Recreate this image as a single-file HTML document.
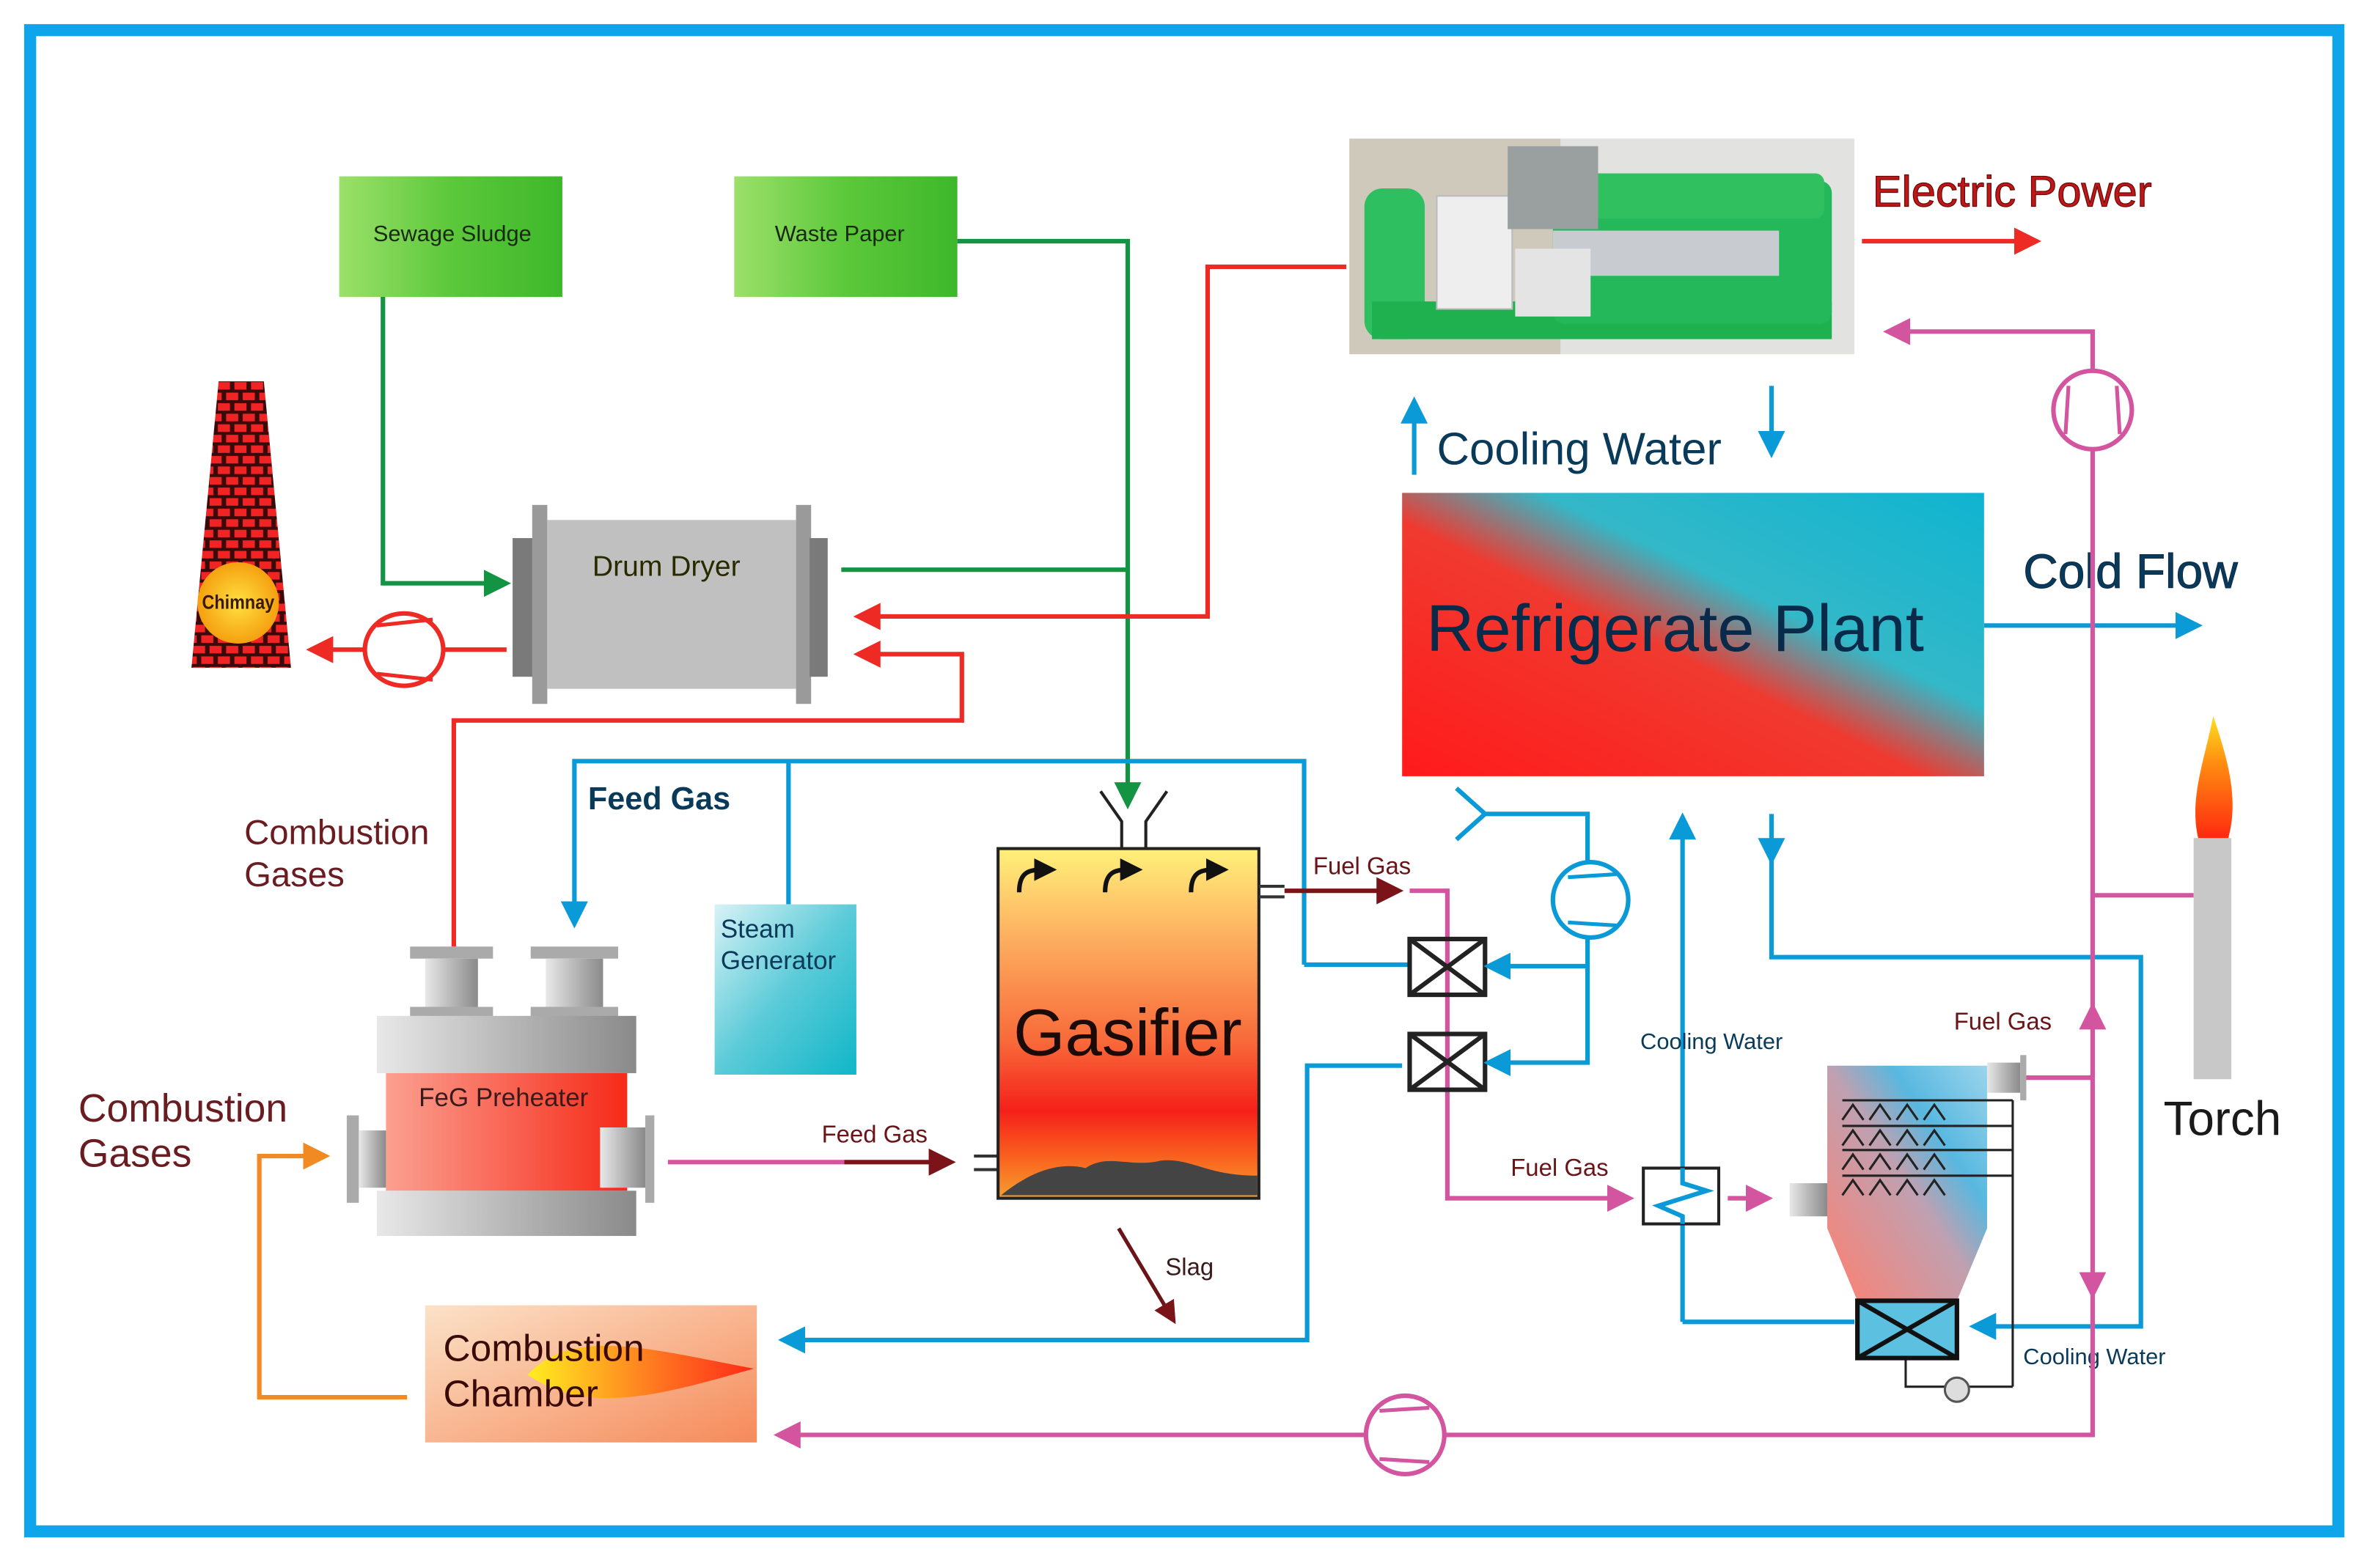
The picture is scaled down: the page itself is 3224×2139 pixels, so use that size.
<!DOCTYPE html>
<html><head><meta charset="utf-8"><style>
html,body{margin:0;padding:0;background:#fff}
svg{display:block}
text{font-family:"Liberation Sans",Arial,sans-serif}
</style></head><body>
<svg width="3224" height="2139" viewBox="0 0 1568 1040.3" preserveAspectRatio="none" xmlns="http://www.w3.org/2000/svg">
<defs>
<marker id="ag" markerWidth="6" markerHeight="6" refX="3" refY="3" orient="auto" markerUnits="strokeWidth"><path d="M0,0 L6,3 L0,6 z" fill="#139443"/></marker>
<marker id="ar" markerWidth="6" markerHeight="6" refX="3" refY="3" orient="auto" markerUnits="strokeWidth"><path d="M0,0 L6,3 L0,6 z" fill="#ee2a24"/></marker>
<marker id="ab" markerWidth="6" markerHeight="6" refX="3" refY="3" orient="auto" markerUnits="strokeWidth"><path d="M0,0 L6,3 L0,6 z" fill="#0a9ad8"/></marker>
<marker id="am" markerWidth="6" markerHeight="6" refX="3" refY="3" orient="auto" markerUnits="strokeWidth"><path d="M0,0 L6,3 L0,6 z" fill="#d4559f"/></marker>
<marker id="ao" markerWidth="6" markerHeight="6" refX="3" refY="3" orient="auto" markerUnits="strokeWidth"><path d="M0,0 L6,3 L0,6 z" fill="#f28a23"/></marker>
<marker id="ad" markerWidth="6" markerHeight="6" refX="3" refY="3" orient="auto" markerUnits="strokeWidth"><path d="M0,0 L6,3 L0,6 z" fill="#7a1418"/></marker>
<marker id="ak" markerWidth="5" markerHeight="5" refX="2" refY="2.5" orient="auto" markerUnits="strokeWidth"><path d="M0,0 L5,2.5 L0,5 z" fill="#111"/></marker>
<linearGradient id="gg" x1="0" y1="0" x2="1" y2="0"><stop offset="0" stop-color="#9be06a"/><stop offset=".5" stop-color="#5cc83a"/><stop offset="1" stop-color="#3db82a"/></linearGradient>
<linearGradient id="rp" x1="0" y1="1" x2="1" y2="0"><stop offset="0" stop-color="#ff1a1a"/><stop offset=".45" stop-color="#f03a30"/><stop offset=".62" stop-color="#33b8c8"/><stop offset="1" stop-color="#10b4d0"/></linearGradient>
<linearGradient id="gas" x1="0" y1="0" x2="0" y2="1"><stop offset="0" stop-color="#fff17a"/><stop offset=".25" stop-color="#fdb060"/><stop offset=".55" stop-color="#f86a3a"/><stop offset=".75" stop-color="#f5201a"/><stop offset=".9" stop-color="#fa6a20"/><stop offset="1" stop-color="#f5a030"/></linearGradient>
<linearGradient id="stm" x1="0" y1="0" x2="1" y2="1"><stop offset="0" stop-color="#d8f2f6"/><stop offset=".5" stop-color="#5ccbd8"/><stop offset="1" stop-color="#10b6c8"/></linearGradient>
<linearGradient id="feg" x1="0" y1="0" x2="1" y2="0"><stop offset="0" stop-color="#fba090"/><stop offset="1" stop-color="#f62a18"/></linearGradient>
<linearGradient id="gry" x1="0" y1="0" x2="1" y2="0"><stop offset="0" stop-color="#e8e8e8"/><stop offset=".5" stop-color="#b8b8b8"/><stop offset="1" stop-color="#8a8a8a"/></linearGradient>
<linearGradient id="cc" x1="0" y1="0" x2="1" y2="1"><stop offset="0" stop-color="#fbe2c8"/><stop offset="1" stop-color="#f58a5a"/></linearGradient>
<linearGradient id="scr" x1="0" y1="1" x2="1" y2="0"><stop offset="0" stop-color="#ff8070"/><stop offset=".5" stop-color="#c0a0b0"/><stop offset=".7" stop-color="#58b8e0"/><stop offset="1" stop-color="#9ad4ec"/></linearGradient>
<linearGradient id="fl" x1="0" y1="0" x2="1" y2="0"><stop offset="0" stop-color="#ffee20"/><stop offset=".6" stop-color="#ff7020"/><stop offset="1" stop-color="#ff2a18"/></linearGradient>
<linearGradient id="tf" x1="0" y1="1" x2="0" y2="0"><stop offset="0" stop-color="#ff2a10"/><stop offset=".6" stop-color="#ff8a10"/><stop offset="1" stop-color="#ffe020"/></linearGradient>
<pattern id="brick" width="22" height="14" patternUnits="userSpaceOnUse"><rect width="22" height="14" fill="#3a0a0a"/><rect x="1.5" y="1.5" width="8" height="5" fill="#f02424"/><rect x="12.5" y="1.5" width="8" height="5" fill="#f02424"/><rect x="-4" y="8.5" width="8" height="5" fill="#f02424"/><rect x="7" y="8.5" width="8" height="5" fill="#f02424"/><rect x="18" y="8.5" width="8" height="5" fill="#f02424"/></pattern>
<radialGradient id="ch"><stop offset="0" stop-color="#ffe040"/><stop offset="1" stop-color="#f5a010"/></radialGradient>
</defs>

<rect x="0" y="0" width="1568" height="1041" fill="#fff"/>
<rect x="20" y="20" width="1531" height="996" fill="none" stroke="#0ea5ea" stroke-width="8"/>

<rect x="225" y="117" width="148" height="80" fill="url(#gg)"/>
<text x="300" y="160" font-size="15" text-anchor="middle" fill="#1a2a10">Sewage Sludge</text>
<rect x="487" y="117" width="148" height="80" fill="url(#gg)"/>
<text x="557" y="160" font-size="15" text-anchor="middle" fill="#1a2a10">Waste Paper</text>

<polyline points="254,197 254,387 330,387" fill="none" stroke="#139443" stroke-width="3" marker-end="url(#ag)"/>
<polyline points="635,160 748,160 748,528" fill="none" stroke="#139443" stroke-width="3" marker-end="url(#ag)"/>
<line x1="558" y1="378" x2="748" y2="378" stroke="#139443" stroke-width="3"/>

<!-- Generator -->
<rect x="895" y="92" width="335" height="143" fill="#e2e2e0"/>
<rect x="895" y="92" width="140" height="143" fill="#cfc9bc"/>
<rect x="905" y="125" width="40" height="100" rx="12" fill="#2ec060"/>
<rect x="910" y="200" width="305" height="25" fill="#1fb050"/>
<rect x="1030" y="120" width="185" height="95" rx="8" fill="#24b85a"/>
<rect x="1030" y="153" width="150" height="30" fill="#c8ccd0"/>
<rect x="1040" y="115" width="170" height="30" rx="6" fill="#30c060"/>
<rect x="953" y="130" width="50" height="75" fill="#eeeeee" stroke="#bbb"/>
<rect x="1000" y="97" width="60" height="55" fill="#9aa0a0"/>
<rect x="1005" y="165" width="50" height="45" fill="#e4e4e4"/>

<text x="1242" y="137" font-size="29" fill="#c01818" stroke="#6a0808" stroke-width=".6">Electric Power</text>
<line x1="1235" y1="160" x2="1345" y2="160" stroke="#ee2a24" stroke-width="3" marker-end="url(#ar)"/>

<polyline points="893,177 801,177 801,409 575,409" fill="none" stroke="#ee2a24" stroke-width="3" marker-end="url(#ar)"/>
<polyline points="301,628 301,478 638,478 638,434 575,434" fill="none" stroke="#ee2a24" stroke-width="3" marker-end="url(#ar)"/>

<!-- Chimney -->
<polygon points="145,253 175,253 193,443 127,443" fill="url(#brick)"/>
<circle cx="158" cy="400" r="27" fill="url(#ch)"/>
<text x="158" y="404" font-size="13" text-anchor="middle" fill="#3a1a00" font-weight="bold" textLength="48" lengthAdjust="spacingAndGlyphs">Chimnay</text>

<!-- Drum dryer -->
<rect x="340" y="357" width="14" height="92" fill="#7a7a7a"/>
<rect x="353" y="335" width="10" height="132" fill="#9a9a9a"/>
<rect x="363" y="345" width="165" height="112" fill="#c0c0c0"/>
<rect x="528" y="335" width="10" height="132" fill="#9a9a9a"/>
<rect x="537" y="357" width="12" height="92" fill="#7a7a7a"/>
<text x="442" y="382" font-size="19" text-anchor="middle" fill="#2a2a00">Drum Dryer</text>

<line x1="336" y1="431" x2="212" y2="431" stroke="#ee2a24" stroke-width="3" marker-end="url(#ar)"/>
<ellipse cx="268" cy="431" rx="26" ry="24" fill="#fff" stroke="#ee2a24" stroke-width="3"/>
<line x1="250" y1="415" x2="287" y2="411" stroke="#ee2a24" stroke-width="2.5"/>
<line x1="250" y1="447" x2="287" y2="451" stroke="#ee2a24" stroke-width="2.5"/>

<text x="162" y="560" font-size="23" fill="#6a1c20">Combustion</text>
<text x="162" y="588" font-size="23" fill="#6a1c20">Gases</text>
<text x="52" y="744" font-size="26" fill="#6a1c20">Combustion</text>
<text x="52" y="774" font-size="26" fill="#6a1c20">Gases</text>

<polyline points="865,640 865,505 381,505 381,607" fill="none" stroke="#0a9ad8" stroke-width="3" marker-end="url(#ab)"/>
<line x1="523" y1="505" x2="523" y2="600" stroke="#0a9ad8" stroke-width="3"/>
<line x1="865" y1="640" x2="935" y2="640" stroke="#0a9ad8" stroke-width="3"/>
<text x="390" y="537" font-size="21" fill="#0a3a5a" font-weight="bold">Feed Gas</text>

<rect x="474" y="600" width="94" height="113" fill="url(#stm)"/>
<text x="478" y="622" font-size="17" fill="#0a3a5a">Steam</text>
<text x="478" y="643" font-size="17" fill="#0a3a5a">Generator</text>

<!-- FeG preheater -->
<rect x="272" y="628" width="55" height="8" fill="#aaa"/><rect x="282" y="636" width="35" height="32" fill="url(#gry)"/><rect x="272" y="668" width="55" height="8" fill="#aaa"/>
<rect x="352" y="628" width="58" height="8" fill="#aaa"/><rect x="362" y="636" width="38" height="32" fill="url(#gry)"/><rect x="352" y="668" width="58" height="8" fill="#aaa"/>
<rect x="250" y="674" width="172" height="38" fill="url(#gry)"/>
<rect x="256" y="712" width="160" height="78" fill="url(#feg)"/>
<rect x="250" y="790" width="172" height="30" fill="url(#gry)"/>
<rect x="230" y="740" width="8" height="58" fill="#aaa"/><rect x="238" y="750" width="18" height="38" fill="url(#gry)"/>
<rect x="398" y="748" width="30" height="40" fill="url(#gry)"/><rect x="428" y="740" width="6" height="58" fill="#aaa"/>
<text x="334" y="734" font-size="17" text-anchor="middle" fill="#3a1a1a">FeG Preheater</text>

<polyline points="270,927 172,927 172,767 210,767" fill="none" stroke="#f28a23" stroke-width="3" marker-end="url(#ao)"/>

<line x1="443" y1="771" x2="560" y2="771" stroke="#d4559f" stroke-width="3"/>
<line x1="560" y1="771" x2="625" y2="771" stroke="#7a1418" stroke-width="3" marker-end="url(#ad)"/>
<text x="545" y="758" font-size="16" fill="#6a1418">Feed Gas</text>
<line x1="646" y1="767" x2="662" y2="767" stroke="#333" stroke-width="2"/><line x1="646" y1="776" x2="662" y2="776" stroke="#333" stroke-width="2"/>

<!-- Gasifier -->
<rect x="662" y="563" width="173" height="232" fill="url(#gas)" stroke="#222" stroke-width="2"/>
<path d="M664,793 C680,780 700,770 720,775 C735,765 750,775 770,770 C790,768 800,780 834,780 L834,793 Z" fill="#444"/>
<polyline points="730,525 744,545 744,563" fill="none" stroke="#222" stroke-width="2"/>
<polyline points="774,525 760,545 760,563" fill="none" stroke="#222" stroke-width="2"/>
<path d="M676,592 C676,578 683,577 692,577" fill="none" stroke="#111" stroke-width="3" marker-end="url(#ak)"/>
<path d="M733,592 C733,578 740,577 749,577" fill="none" stroke="#111" stroke-width="3" marker-end="url(#ak)"/>
<path d="M790,592 C790,578 797,577 806,577" fill="none" stroke="#111" stroke-width="3" marker-end="url(#ak)"/>
<text x="748" y="700" font-size="44" text-anchor="middle" fill="#1a0a08">Gasifier</text>
<line x1="835" y1="588" x2="852" y2="588" stroke="#333" stroke-width="2"/><line x1="835" y1="595" x2="852" y2="595" stroke="#333" stroke-width="2"/>

<line x1="742" y1="815" x2="776" y2="872" stroke="#6a1418" stroke-width="2.5" marker-end="url(#ad)"/>
<text x="773" y="846" font-size="16" fill="#3a1a1a">Slag</text>

<rect x="282" y="866" width="220" height="91" fill="url(#cc)"/>
<path d="M350,912 C380,880 430,895 500,908 C440,925 390,940 350,912 Z" fill="url(#fl)"/>
<text x="294" y="903" font-size="25" fill="#3a0a08">Combustion</text>
<text x="294" y="933" font-size="25" fill="#3a0a08">Chamber</text>

<polyline points="930,707 867,707 867,889 525,889" fill="none" stroke="#0a9ad8" stroke-width="3" marker-end="url(#ab)"/>

<line x1="852" y1="591" x2="922" y2="591" stroke="#7a1418" stroke-width="3" marker-end="url(#ad)"/>
<text x="871" y="580" font-size="16" fill="#6a1418">Fuel Gas</text>
<polyline points="935,591 960,591 960,795 1075,795" fill="none" stroke="#d4559f" stroke-width="3" marker-end="url(#am)"/>
<text x="1002" y="780" font-size="16" fill="#6a1418">Fuel Gas</text>

<g stroke="#222" stroke-width="3" fill="none">
<rect x="935" y="623" width="50" height="37"/><line x1="935" y1="623" x2="985" y2="660"/><line x1="985" y1="623" x2="935" y2="660"/>
<rect x="935" y="686" width="50" height="37"/><line x1="935" y1="686" x2="985" y2="723"/><line x1="985" y1="686" x2="935" y2="723"/>
</g>
<polyline points="966,523 985,540 1053,540 1053,705 993,705" fill="none" stroke="#0a9ad8" stroke-width="3" marker-end="url(#ab)"/>
<polyline points="1053,641 993,641" fill="none" stroke="#0a9ad8" stroke-width="3" marker-end="url(#ab)"/>
<line x1="966" y1="557" x2="985" y2="540" stroke="#0a9ad8" stroke-width="3"/>
<ellipse cx="1055" cy="597" rx="25" ry="25" fill="#fff" stroke="#0a9ad8" stroke-width="3"/>
<line x1="1040" y1="582" x2="1072" y2="580" stroke="#0a9ad8" stroke-width="2.5"/>
<line x1="1040" y1="612" x2="1072" y2="614" stroke="#0a9ad8" stroke-width="2.5"/>

<rect x="930" y="327" width="386" height="188" fill="url(#rp)"/>
<text x="946" y="432" font-size="44" fill="#0a2a4a">Refrigerate Plant</text>
<line x1="938" y1="315" x2="938" y2="272" stroke="#0a9ad8" stroke-width="3" marker-end="url(#ab)"/>
<line x1="1175" y1="256" x2="1175" y2="295" stroke="#0a9ad8" stroke-width="3" marker-end="url(#ab)"/>
<text x="953" y="308" font-size="30" fill="#0a3a5a">Cooling Water</text>
<line x1="1316" y1="415" x2="1452" y2="415" stroke="#0a9ad8" stroke-width="3" marker-end="url(#ab)"/>
<text x="1342" y="390" font-size="32" fill="#0a3a5a" stroke="#0a2a4a" stroke-width=".5">Cold Flow</text>

<polyline points="1116,877 1116,548" fill="none" stroke="#0a9ad8" stroke-width="3" marker-end="url(#ab)"/>
<polyline points="1116,877 1230,877" fill="none" stroke="#0a9ad8" stroke-width="3"/>
<polyline points="1175,540 1175,565" fill="none" stroke="#0a9ad8" stroke-width="3" marker-end="url(#ab)"/>
<polyline points="1175,567 1175,635 1420,635 1420,880 1315,880" fill="none" stroke="#0a9ad8" stroke-width="3" marker-end="url(#ab)"/>
<text x="1088" y="696" font-size="15" fill="#0a3a5a">Cooling Water</text>
<text x="1342" y="905" font-size="15" fill="#0a3a5a">Cooling Water</text>

<rect x="1090" y="775" width="50" height="37" fill="#fff" stroke="#222" stroke-width="2"/>
<polyline points="1116,775 1116,785 1132,790 1100,800 1116,807 1116,812" fill="none" stroke="#0a9ad8" stroke-width="3"/>
<line x1="1146" y1="795" x2="1167" y2="795" stroke="#d4559f" stroke-width="3" marker-end="url(#am)"/>

<path d="M1212,707 L1318,707 L1318,815 L1298,863 L1232,863 L1212,815 Z" fill="url(#scr)"/>
<rect x="1187" y="785" width="25" height="22" fill="url(#gry)"/>
<rect x="1318" y="705" width="22" height="20" fill="url(#gry)"/><rect x="1340" y="700" width="4" height="30" fill="#aaa"/>
<g stroke="#222" stroke-width="1.5" fill="none">
<line x1="1222" y1="730" x2="1335" y2="730"/><line x1="1222" y1="747" x2="1335" y2="747"/><line x1="1222" y1="763" x2="1335" y2="763"/><line x1="1222" y1="780" x2="1335" y2="780"/>
<line x1="1335" y1="730" x2="1335" y2="920"/><polyline points="1264,900 1264,920 1335,920"/>
<path d="M1222,743 l7,-10 l7,10 M1240,743 l7,-10 l7,10 M1258,743 l7,-10 l7,10 M1276,743 l7,-10 l7,10"/>
<path d="M1222,760 l7,-10 l7,10 M1240,760 l7,-10 l7,10 M1258,760 l7,-10 l7,10 M1276,760 l7,-10 l7,10"/>
<path d="M1222,776 l7,-10 l7,10 M1240,776 l7,-10 l7,10 M1258,776 l7,-10 l7,10 M1276,776 l7,-10 l7,10"/>
<path d="M1222,793 l7,-10 l7,10 M1240,793 l7,-10 l7,10 M1258,793 l7,-10 l7,10 M1276,793 l7,-10 l7,10"/>
</g>
<circle cx="1298" cy="922" r="8" fill="#ddd" stroke="#555" stroke-width="1.5"/>
<rect x="1232" y="863" width="66" height="38" fill="#5cc0e0" stroke="#111" stroke-width="3"/>
<line x1="1232" y1="863" x2="1298" y2="901" stroke="#111" stroke-width="3"/><line x1="1298" y1="863" x2="1232" y2="901" stroke="#111" stroke-width="3"/>

<polyline points="1344,715 1388,715" fill="none" stroke="#d4559f" stroke-width="3"/>
<line x1="1388" y1="715" x2="1388" y2="674" stroke="#d4559f" stroke-width="3" marker-end="url(#am)"/>
<polyline points="1388,680 1388,220 1258,220" fill="none" stroke="#d4559f" stroke-width="3" marker-end="url(#am)"/>
<line x1="1388" y1="715" x2="1388" y2="853" stroke="#d4559f" stroke-width="3" marker-end="url(#am)"/>
<polyline points="1388,855 1388,952 522,952" fill="none" stroke="#d4559f" stroke-width="3" marker-end="url(#am)"/>
<line x1="1388" y1="594" x2="1455" y2="594" stroke="#d4559f" stroke-width="3"/>
<text x="1296" y="683" font-size="16" fill="#6a1418">Fuel Gas</text>
<ellipse cx="1388" cy="272" rx="26" ry="26" fill="#fff" stroke="#d4559f" stroke-width="3"/>
<line x1="1372" y1="256" x2="1370" y2="288" stroke="#d4559f" stroke-width="2.5"/>
<line x1="1404" y1="256" x2="1406" y2="288" stroke="#d4559f" stroke-width="2.5"/>
<ellipse cx="932" cy="952" rx="26" ry="26" fill="#fff" stroke="#d4559f" stroke-width="3"/>
<line x1="915" y1="936" x2="948" y2="934" stroke="#d4559f" stroke-width="2.5"/>
<line x1="915" y1="968" x2="948" y2="970" stroke="#d4559f" stroke-width="2.5"/>

<rect x="1455" y="556" width="25" height="160" fill="#c8c8c8"/>
<path d="M1458,556 C1452,530 1462,505 1468,475 C1478,505 1485,530 1478,556 Z" fill="url(#tf)"/>
<text x="1435" y="753" font-size="32" fill="#1a1a1a">Torch</text>
</svg>
</body></html>
